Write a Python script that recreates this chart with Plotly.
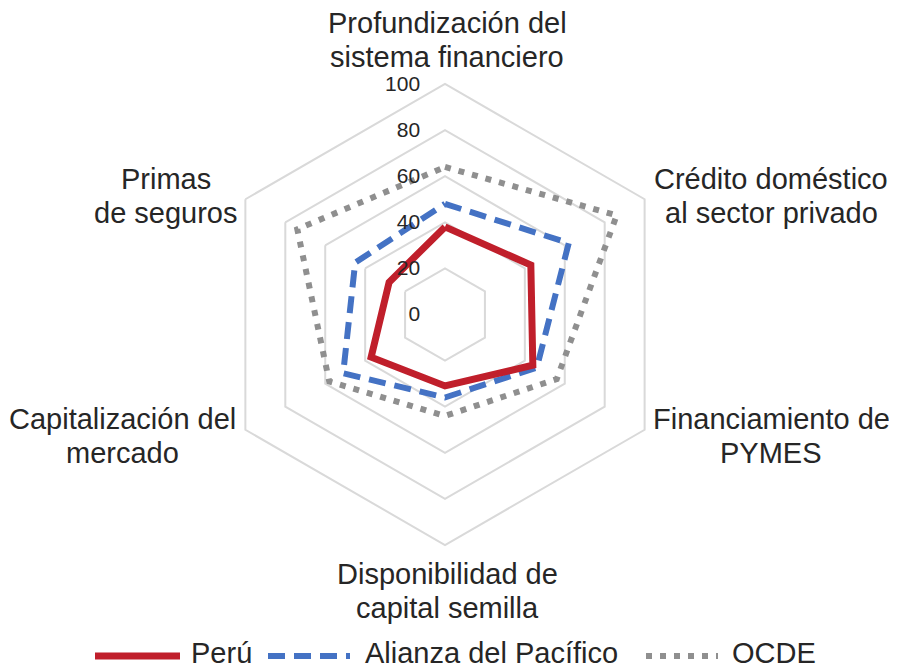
import plotly.graph_objects as go

# Ejes del radar (sentido horario desde arriba)
categorias = [
    "Profundización del<br>sistema financiero",
    "Crédito doméstico<br>al sector privado",
    "Financiamiento de<br>PYMES",
    "Disponibilidad de<br>capital semilla",
    "Capitalización del<br>mercado",
    "Primas<br>de seguros",
]
peru = [38, 43, 44, 31, 37, 28]
alianza = [48, 62, 46, 36, 51, 45]
ocde = [64, 86, 56, 44, 58, 74]
radial_ticks = [0, 20, 40, 60, 80, 100]

COLORS = {"peru": "#C01F2B", "alianza": "#4472C4", "ocde": "#8F8F8F", "grid": "#D9D9D9", "text": "#262626"}
FONT = "Liberation Sans"

W, H = 897, 672
OFF = 8  # margen del <body> en la página


def px(x):
    return (x - OFF) / W


def py(y):
    return 1 - (y - OFF) / H


def cerrar(vals):
    return vals + vals[:1]


fig = go.Figure()
series = [
    ("OCDE", ocde, COLORS["ocde"], "6px,8px", 6),
    ("Alianza del Pacífico", alianza, COLORS["alianza"], "17px,9px", 6),
    ("Perú", peru, COLORS["peru"], "solid", 7),
]
for name, vals, color, dash, width in series:
    fig.add_trace(go.Scatterpolar(
        r=cerrar(vals),
        theta=cerrar(categorias),
        mode="lines",
        name=name,
        line=dict(color=color, width=width, dash=dash),
        showlegend=False,
    ))

cx, cy, rad = 445, 314.5, 230.5
fig.update_layout(
    width=W, height=H,
    margin=dict(l=0, r=0, t=0, b=0),
    paper_bgcolor="white",
    font=dict(family=FONT, color=COLORS["text"]),
    polar=dict(
        domain=dict(x=[px(cx - rad), px(cx + rad)], y=[py(cy + rad), py(cy - rad)]),
        bgcolor="white",
        gridshape="linear",
        angularaxis=dict(
            rotation=90, direction="clockwise",
            showgrid=False, showline=True, linecolor=COLORS["grid"], linewidth=2,
            ticks="", showticklabels=False,
        ),
        radialaxis=dict(
            range=[0, 100], tickvals=radial_ticks, angle=90, tickangle=90,
            side="counterclockwise",
            showline=False, gridcolor=COLORS["grid"], gridwidth=2,
            ticks="outside", ticklen=17, tickcolor="rgba(0,0,0,0)",
            tickfont=dict(size=21, color=COLORS["text"]),
        ),
    ),
)

# Etiquetas de los ejes, centradas, línea a línea
label_pos = [(447, 23), (771, 179), (771, 419), (447, 574), (123, 419), (166, 179)]
line_gap = 34
for cat, (lx, ly) in zip(categorias, label_pos):
    for i, linea in enumerate(cat.split("<br>")):
        fig.add_annotation(x=px(lx), y=py(ly + i * line_gap), xref="paper", yref="paper",
                           text=linea, showarrow=False, xanchor="center", yanchor="middle",
                           font=dict(size=29, color=COLORS["text"]))

# Leyenda inferior
ley_y = 656
leyenda = [
    ("Perú", COLORS["peru"], "solid", 7, 95, 180, 189),
    ("Alianza del Pacífico", COLORS["alianza"], "17px,9px", 6, 268, 350, 363),
    ("OCDE", COLORS["ocde"], "6px,8px", 6, 646, 718, 730),
]
for name, color, dash, width, x0, x1, xt in leyenda:
    fig.add_shape(type="line", xref="paper", yref="paper", x0=px(x0), x1=px(x1), y0=py(ley_y), y1=py(ley_y),
                  line=dict(color=color, width=width, dash=dash))
    fig.add_annotation(x=px(xt), y=py(ley_y - 3), xref="paper", yref="paper", text=name, showarrow=False,
                       xanchor="left", yanchor="middle", font=dict(size=29, color=COLORS["text"]))

fig.write_html("out.html")
